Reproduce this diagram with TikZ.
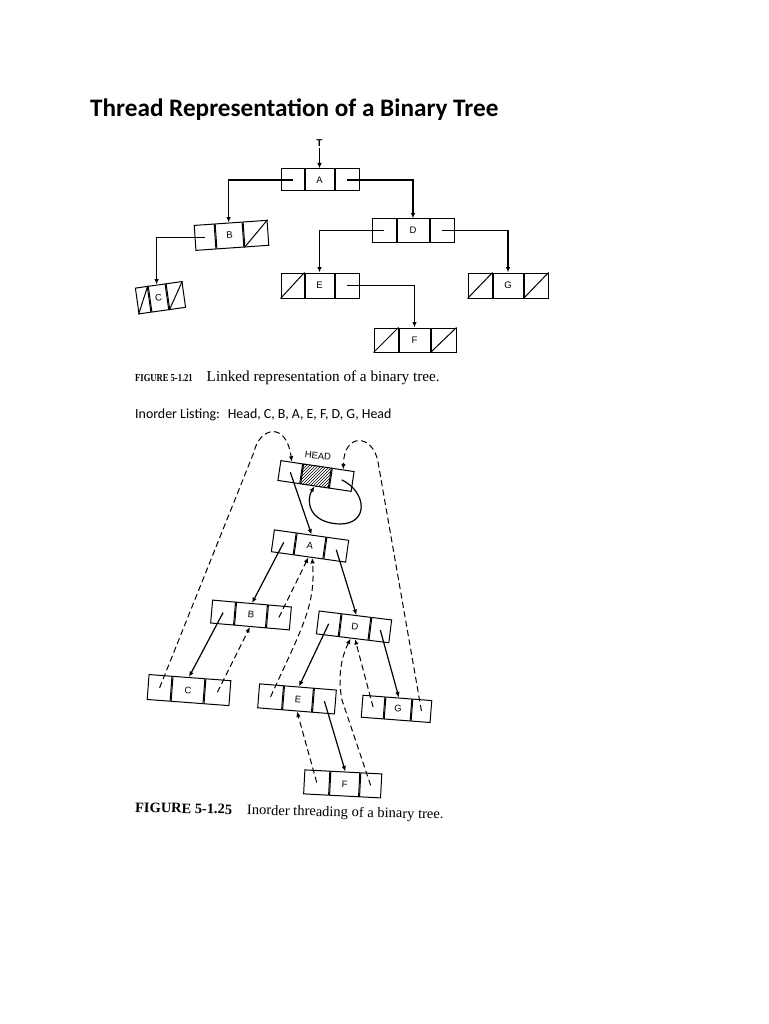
\documentclass[tikz,border=0pt]{standalone}
\usepackage{fontspec}
\usepackage{graphicx}
\setmainfont{Liberation Serif}
\newfontfamily\calib{Carlito}
\newfontfamily\lab{Liberation Sans}
\usetikzlibrary{arrows.meta,patterns,calc}

\newcommand{\tbox}[9]{%
  \begin{scope}[shift={(#2,#3)},rotate=#4,transform shape]
    \node[cellbox,minimum width=#6pt,minimum height=#8pt] (#1) at (0,0) {#9};
    \node[cellbox,minimum width=#5pt,minimum height=#8pt,anchor=east] (#1l) at (#1.west) {};
    \node[cellbox,minimum width=#7pt,minimum height=#8pt,anchor=west] (#1r) at (#1.east) {};
  \end{scope}}
\newcommand{\nullcell}[1]{\draw[slashln] (#1.south west) -- (#1.north east);}

\begin{document}
\begin{tikzpicture}[x=1pt,y=-1pt,
  cellbox/.style={draw,inner sep=0pt,line width=1pt,font=\lab\fontsize{9.5}{10}\selectfont},
  link/.style={line width=1.2pt,-{Latex[length=5.5pt,width=4.5pt]}},
  thread/.style={line width=1pt,dash pattern=on 6pt off 3.5pt,-{Latex[length=5.5pt,width=4.5pt]}},
  slashln/.style={line width=1pt}]
\useasboundingbox[fill=white] (0,0) rectangle (768,1024);

% title
\node[anchor=base west,font=\calib\bfseries\fontsize{25.2}{28}\selectfont,inner sep=0pt] (title) at (90,117) {Thread Representation of a Binary Tree};

% ---------- Figure 5-1.21 ----------
\node[font=\lab\bfseries\fontsize{10}{12}\selectfont,inner sep=1pt] (T) at (319.5,143) {T};
\tbox{A}{319.5}{180}{0}{23}{29}{24}{22}{A}
\tbox{B}{229.5}{235.5}{4}{20}{27}{24}{25}{B}
\tbox{C}{158.5}{298}{8}{12}{17}{16}{26}{C}
\tbox{D}{413}{230.5}{0}{24}{32}{24}{23}{D}
\tbox{E}{319.5}{285.5}{0}{23}{29}{24}{25}{E}
\tbox{F}{414.5}{340}{0}{24}{31}{25}{24}{F}
\tbox{G}{508}{285.5}{0}{24}{30}{24}{25}{G}
\nullcell{Br}
\nullcell{Cl}\nullcell{Cr}
\nullcell{El}
\nullcell{Fl}\nullcell{Fr}
\nullcell{Gl}\nullcell{Gr}

\draw[link] (T) -- (A.north);
\draw[link] (Al.center) -| (B.north);
\draw[link] (Ar.center) -| (D.north);
\draw[link] (Bl.center) -| (C.north);
\draw[link] (Dl.center) -| (E.north);
\draw[link] (Dr.center) -| (G.north);
\draw[link] (Er.center) -| (F.north);

\node[anchor=base west,inner sep=0pt] (cap1) at (135,381) {\scalebox{0.8}[1]{\fontsize{10.7}{12}\selectfont\bfseries FIGURE 5-1.21}\hspace{14pt}\fontsize{15.2}{17}\selectfont Linked representation of a binary tree.};

\node[anchor=base west,inner sep=0pt,font=\calib\fontsize{13.9}{16}\selectfont] (inorder) at (135,418) {Inorder Listing:\hspace{8pt}Head, C, B, A, E, F, D, G, Head};

% ---------- Figure 5-1.25 ----------
\node[font=\lab\fontsize{9.5}{10}\selectfont,rotate=-6,inner sep=0pt] (headlbl) at (318,456) {HEAD};
\tbox{HH}{316}{476}{-8.5}{22}{28}{22}{20}{}
\fill[pattern=north east lines] (HH.south west) -- (HH.south east) -- (HH.north east) -- (HH.north west) -- cycle;
\tbox{a}{310}{546}{-8}{22}{29}{22}{22}{A}
\tbox{b}{251}{615}{-5}{23}{31}{23}{23}{B}
\tbox{c}{188}{690}{-4.3}{23}{32}{25}{25}{C}
\tbox{d}{355}{627}{-7}{22}{29}{20}{23}{D}
\tbox{e}{298}{699}{-4.6}{24}{29}{22}{24}{E}
\tbox{g}{398}{709}{-4.4}{22}{26}{19}{22}{G}
\tbox{f}{344.7}{784}{-3}{25}{29}{21}{24}{F}

% child links
\draw[link] (HHl.center) -- (a.north);
\draw[link] (al.center) -- (b.north);
\draw[link] (ar.center) -- (d.north);
\draw[link] (bl.center) -- (c.north);
\draw[link] (dl.center) -- (e.north);
\draw[link] (dr.center) -- (g.north);
\draw[link] (er.center) -- (f.north);
\draw[link] (HHr.center) .. controls (367,492) and (369,524) .. (340,524) .. controls (308,523) and (306,500) .. (HH.south);

% threads
\draw[thread] (cl.center) -- (254,452) .. controls (259,428) and (286,420) .. (HHl.north);
\draw[thread] (gr.center) -- (378,462) .. controls (373,434) and (344,432) .. (HHr.north);
\draw[thread] (cr.center) -- (b.south);
\draw[thread] (br.center) -- (a.south);
\draw[thread] (el.center) .. controls (302,628) and (316,605) .. ($(a.south)!0.25!(a.south east)$);
\draw[thread] (fl.center) -- (e.south);
\draw[thread] (fr.center) -- (342,700) .. controls (338,680) and (340,660) .. ($(d.south)!0.2!(d.south west)$);
\draw[thread] (gl.center) -- ($(d.south)!0.1!(d.south east)$);

\node[anchor=base west,inner sep=0pt,rotate=-1.3] (cap2) at (135,812) {\fontsize{14.4}{17}\selectfont\bfseries FIGURE 5-1.25\hspace{15pt}\fontsize{14.5}{16}\selectfont\mdseries Inorder threading of a binary tree.};
\end{tikzpicture}
\end{document}
